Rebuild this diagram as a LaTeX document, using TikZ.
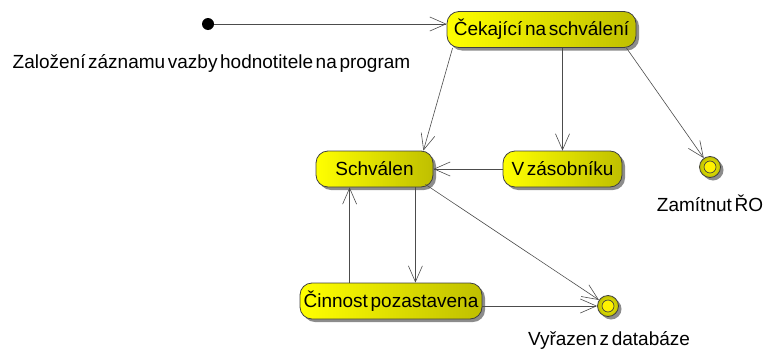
\documentclass[tikz,border=0pt]{standalone}
\usepackage{fontspec}
\setmainfont{Liberation Sans}[WordSpace=0.5]
\usetikzlibrary{arrows.meta,shadows,calc}
\begin{document}
\begin{tikzpicture}[x=1pt,y=-1pt,
  state/.style={draw=black!75, line width=0.8pt, rounded corners=12pt,
    left color=yellow, right color=yellow!75!black, minimum height=36pt,
    inner sep=0pt, font=\fontsize{19}{22}\selectfont,
    drop shadow={shadow xshift=3pt, shadow yshift=-3pt, fill=black!45, opacity=1}},
  final/.style={circle, draw=black!75, line width=0.8pt, minimum size=21pt, inner sep=0pt,
    inner color=yellow, outer color=yellow!75!black,
    drop shadow={shadow xshift=3pt, shadow yshift=-3pt, fill=black!45, opacity=1},
    path picture={\draw[black!75, line width=0.7pt, fill=yellow] (path picture bounding box.center) circle (6pt);}},
  lbl/.style={font=\fontsize{19}{22}\selectfont, inner sep=0pt},
  tr/.style={draw=black!70, line width=0.6pt, -{Straight Barb[length=16pt,width=14pt,line width=0.6pt]}}
]
\useasboundingbox (0,0) rectangle (765,351);
\node[circle, fill=black, minimum size=12pt, inner sep=0pt] (init) at (208,24) {};
\node[lbl] (initl) at (211.5,63) {Založení záznamu vazby hodnotitele na program};
\node[state, minimum width=189pt] (cek) at (541.5,29.5) {Čekající na schválení};
\node[state, minimum width=117pt] (sch) at (374.5,169) {Schválen};
\node[state, minimum width=119pt] (zas) at (562.5,169) {V zásobníku};
\node[state, minimum width=182pt] (cin) at (391,301) {Činnost pozastavena};
\node[final] (zam) at (710,167) {};
\node[lbl] (zaml) at (710,203) {Zamítnut ŘO};
\node[final] (vyr) at (608,306) {};
\node[lbl] (vyrl) at (609,340) {Vyřazen z databáze};

\draw[tr] (init.east) -- (init.east -| cek.west);
\coordinate (c1) at ($(cek.south west)+(6,0)$);
\coordinate (s1) at ($(sch.north east)+(-10,0)$);
\draw[tr] (c1) -- (s1);
\draw[tr] (cek.south -| zas.north) -- (zas.north);
\coordinate (c2) at ($(cek.south east)+(-10,0)$);
\draw[tr] (c2) -- (zam);
\draw[tr] (zas.west) -- (sch.east);
\coordinate (s2) at ($(sch.south east)+(-8,-3)$);
\draw[tr] (s2) -- (vyr);
\coordinate (s3) at ($(sch.south east)+(-18,0)$);
\draw[tr] (s3) -- (s3 |- cin.north);
\coordinate (c3) at ($(cin.north west)+(50,0)$);
\draw[tr] (c3) -- (c3 |- sch.south);
\draw[tr] (vyr.west -| cin.east) -- (vyr.west);
\end{tikzpicture}
\end{document}
